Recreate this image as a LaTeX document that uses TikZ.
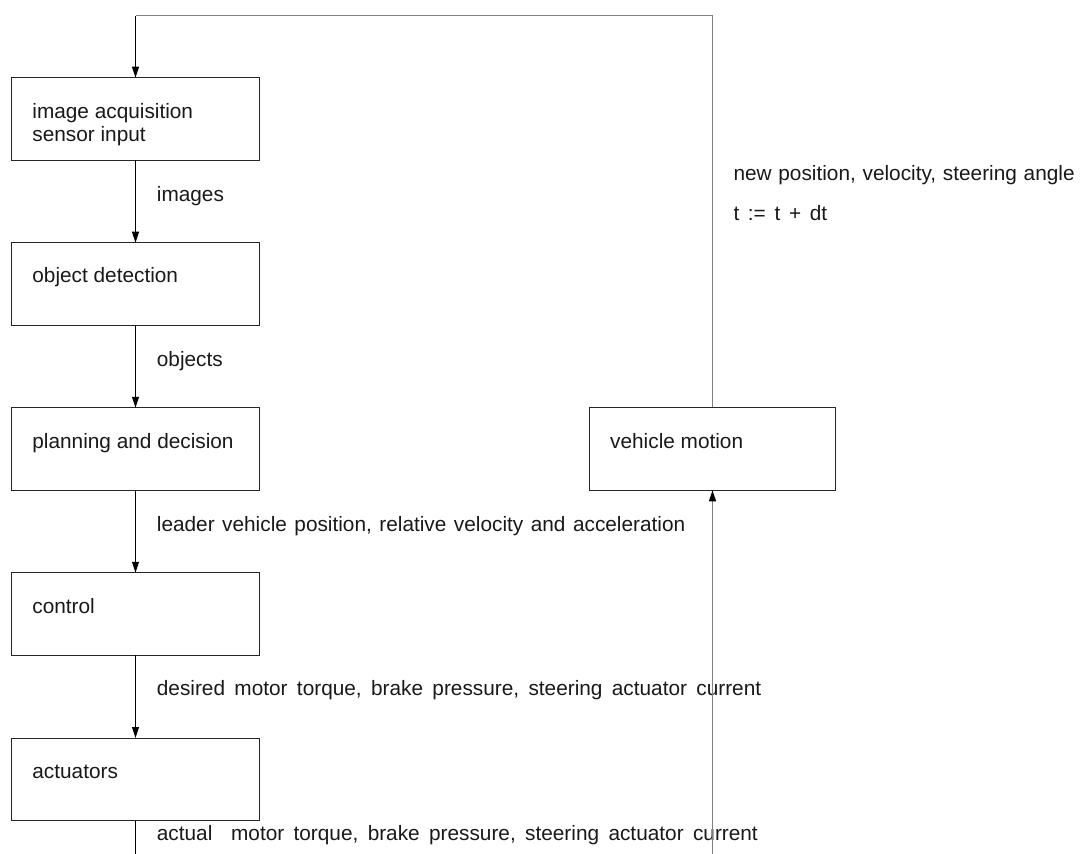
\documentclass[tikz,border=0pt]{standalone}
\usepackage{fontspec}
\setmainfont{Liberation Sans}
\usetikzlibrary{arrows.meta}
\newcommand\wordsp[1]{\spaceskip=#1\fontdimen2\font\relax}
\tikzset{
  box/.style={draw=black!85, line width=1pt, minimum width=247.6pt, minimum height=82.5pt, inner sep=0pt, outer sep=0pt},
  txt/.style={anchor=base west, inner sep=0pt, text=black!90, font=\fontsize{20.8}{23}\selectfont},
  arr/.style={draw=black, -{Triangle[length=11pt,width=7pt]}, line width=1pt},
  loopline/.style={draw=black!50, line width=1.3pt}}
\begin{document}
\begin{tikzpicture}[x=1pt,y=-1pt]
\useasboundingbox (0,0) rectangle (1085,854);
% boxes
\node[box] (b1) at (135.5,118.9) {};
\node[box] (b2) at (135.5,283.9) {};
\node[box] (b3) at (135.5,449.0) {};
\node[box] (b4) at (135.5,614.0) {};
\node[box] (b5) at (135.5,779.3) {};
\node[box, minimum width=246.4pt, minimum height=83pt] (vm) at (712.5,448.8) {};
% box texts
\node[txt] (t1a) at (32.2,118.5) {image acquisition};
\node[txt] (t1b) at (32.2,141.8) {sensor input};
\node[txt] (t2) at (32.2,282.5) {object detection};
\node[txt] (t3) at (32.2,448.0) {planning and decision};
\node[txt] (t4) at (32.2,613.2) {control};
\node[txt] (t5) at (32.2,778.0) {actuators};
\node[txt] (tvm) at (610.0,448.3) {vehicle motion};
% connector labels
\node[txt] (l1) at (156.7,201.2) {images};
\node[txt] (l2) at (156.7,366.5) {objects};
\node[txt] (l3) at (156.7,531.2) {\wordsp{1.3}leader vehicle position, relative velocity and acceleration};
\node[txt] (l4) at (156.7,695.7) {\wordsp{1.62}desired motor torque, brake pressure, steering actuator current};
\node[txt] (l5) at (156.7,840.5) {\wordsp{1.62}actual\ \ motor torque, brake pressure, steering actuator current};
\node[txt] (l6) at (733.3,180.5) {\wordsp{1.17}new position, velocity, steering angle};
\node[txt] (l7) at (733.3,220.5) {\wordsp{1.5}t := t + dt};
% free ends
\coordinate (tl) at (135.5,15.8);
\coordinate (bl) at (135.5,854);
\coordinate (br) at (712.5,854);
% connectors
\draw[arr] (b1.south) -- (b2.north);
\draw[arr] (b2.south) -- (b3.north);
\draw[arr] (b3.south) -- (b4.north);
\draw[arr] (b4.south) -- (b5.north);
\draw[line width=1pt, black] (b5.south) -- (bl);
\draw[loopline] (vm.north) |- (tl);
\draw[arr] (tl) -- (b1.north);
\draw[loopline, -{Triangle[length=11pt,width=7pt,color=black]}] (br) -- (vm.south);
\end{tikzpicture}
\end{document}
